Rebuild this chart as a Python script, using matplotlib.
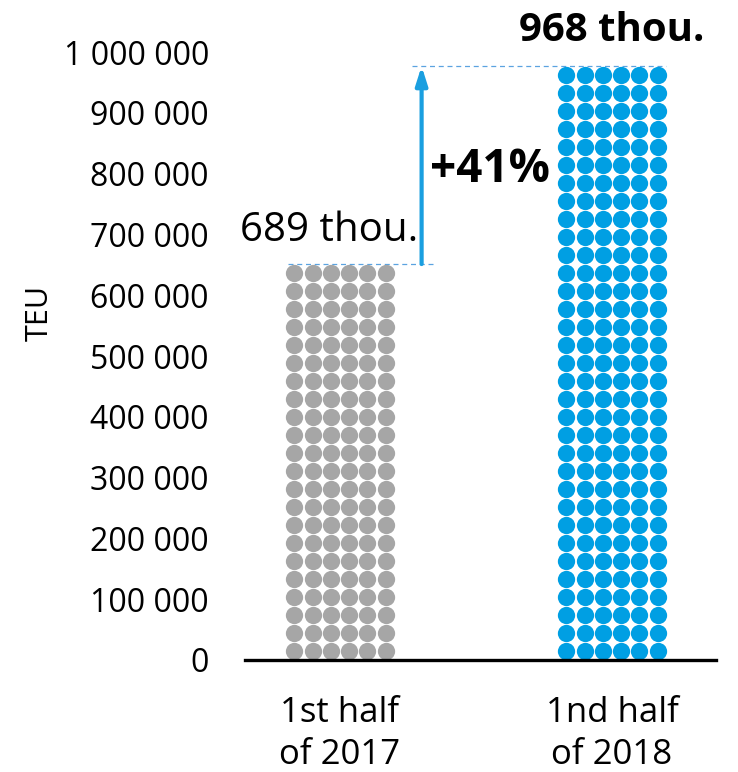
import matplotlib.pyplot as plt
import numpy as np

plt.rcParams['font.family'] = ['Open Sans', 'Noto Sans', 'DejaVu Sans']

# Data
categories = ['1st half\nof 2017', '1nd half\nof 2018']
value_labels = ['689 thou.', '968 thou.']
dot_rows = [22, 33]          # rows of dots in each column
dot_cols = 6
row_value = 29600            # TEU per row of dots
change_label = '+41%'
yticks = np.arange(0, 1000001, 100000)
colors = ['#a6a6a6', '#009fe3']

fig = plt.figure(figsize=(7.38, 7.72), dpi=100)
ax = fig.add_axes([245 / 738, 1 - 660 / 772, (716 - 245) / 738, (660 - 52) / 772])

x = np.arange(len(categories))
col_step = 18.3 / 272  # horizontal pitch in data units

for i, (rows, c) in enumerate(zip(dot_rows, colors)):
    cx = x[i] + (np.arange(dot_cols) - (dot_cols - 1) / 2) * col_step
    cy = (np.arange(rows) + 0.5) * row_value
    xx, yy = np.meshgrid(cx, cy)
    ax.scatter(xx.ravel(), yy.ravel(), s=155, color=c, linewidths=0, zorder=3)

top_gray = dot_rows[0] * row_value
top_blue = dot_rows[1] * row_value

# dashed guide lines at the column tops
ax.plot([x[0] - 0.19, x[0] + 0.35], [top_gray, top_gray], ls=(0, (4, 3)),
        color='#5ba3e0', lw=0.9, zorder=2)
ax.plot([x[0] + 0.265, x[1] + 0.2], [top_blue, top_blue], ls=(0, (4, 3)),
        color='#5ba3e0', lw=0.9, zorder=2)

# arrow
ax.annotate('', xy=(x[0] + 0.3, top_blue), xytext=(x[0] + 0.3, top_gray),
            arrowprops=dict(arrowstyle='-|>,head_width=0.35,head_length=1.1',
                            color='#1a9fe0', lw=3, shrinkA=0, shrinkB=0))
ax.text(x[0] + 0.552, (top_gray + top_blue) / 2 - 8000, change_label,
        fontsize=33, fontweight='bold', ha='center', va='center')

ax.text(x[0] - 0.04, top_gray + 55000, value_labels[0], fontsize=29,
        ha='center', va='center')
ax.text(x[1] + 0.0, 1035000, value_labels[1], fontsize=29,
        fontweight='bold', ha='center', va='center', clip_on=False)

ax.set_xlim(-95 / 272, 1 + 104 / 272)
ax.set_ylim(0, 1000000)
ax.set_yticks(yticks)
ax.set_yticklabels([f'{v:,}'.replace(',', ' ') for v in yticks], fontsize=23)
ax.set_xticks(x)
ax.set_xticklabels(categories, fontsize=25, linespacing=1.3)
ax.tick_params(axis='y', length=0, pad=26)
ax.tick_params(axis='x', length=0, pad=26)

for s in ['top', 'right', 'left']:
    ax.spines[s].set_visible(False)
ax.spines['bottom'].set_linewidth(2.4)
ax.spines['bottom'].set_zorder(4)

fig.text(40 / 738, 1 - 313 / 772, 'TEU', rotation=90, fontsize=22,
         ha='center', va='center')

fig.savefig('out.png', dpi=100)
plt.close(fig)
